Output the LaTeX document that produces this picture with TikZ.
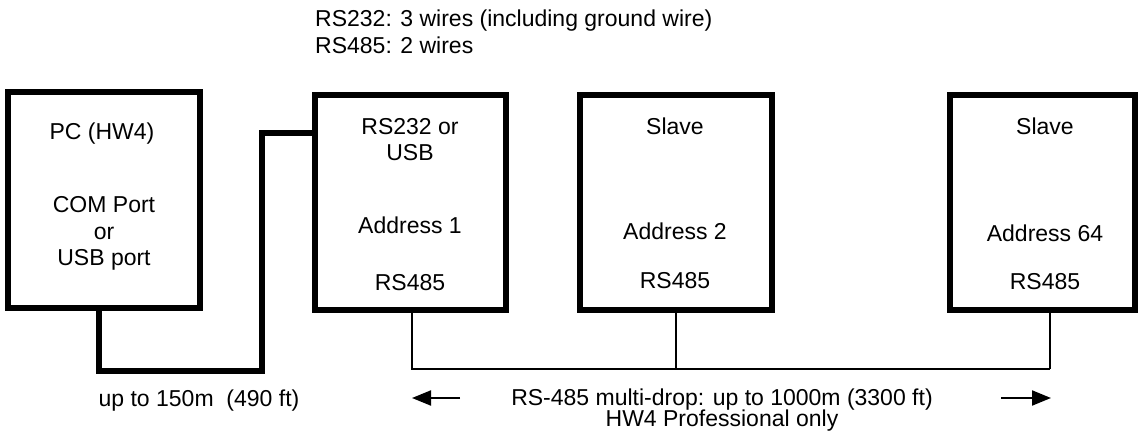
\documentclass[tikz,border=0pt]{standalone}
\usepackage{fontspec}
\setmainfont{Liberation Sans}
\usetikzlibrary{arrows.meta}

\def\yTop{27}
\def\yBus{369}
\def\yArr{398}

\begin{document}
\begin{tikzpicture}[x=1pt, y=-1pt,
    box/.style={shape=rectangle, draw=black, line width=6pt, inner sep=0pt},
    lbl/.style={anchor=base, inner sep=0pt, font=\fontsize{23}{27}\selectfont},
    wire/.style={draw=black, line width=6pt},
    bus/.style={draw=black, line width=1.5pt},
    span/.style={draw=black, line width=2pt, -{Triangle[length=19pt, width=15pt]}}]
    \useasboundingbox (0,0) rectangle (1138,438);

    %%   boxes
    \node[box, minimum width=192pt, minimum height=216pt] (PC)   at ( 104, 200)   {};
    \node[box, minimum width=191pt, minimum height=215pt] (RS)   at (410.5, 202.5) {};
    \node[box, minimum width=192pt, minimum height=215pt] (SL2)  at ( 676, 202.5) {};
    \node[box, minimum width=185pt, minimum height=215pt] (SL64) at (1042.5, 202.5) {};

    %%   texts in the boxes
    \node[lbl] (pcName) at (102, 140)   {PC (HW4)};
    \node[lbl] (pcCom)  at (104, 213)   {COM Port};
    \node[lbl] (pcOr)   at (104, 239.5) {or};
    \node[lbl] (pcUsb)  at (104, 266)   {USB port};

    \node[lbl] (rsName) at (410, 135) {RS232 or};
    \node[lbl] (rsUsb)  at (410, 161) {USB};
    \node[lbl] (rsAdr)  at (410, 234) {Address 1};
    \node[lbl] (rsBus)  at (410, 291) {RS485};

    \node[lbl] (slName) at (675, 135) {Slave};
    \node[lbl] (slAdr)  at (675, 240) {Address 2};
    \node[lbl] (slBus)  at (675, 289) {RS485};

    \node[lbl] (lsName) at (1045, 135) {Slave};
    \node[lbl] (lsAdr)  at (1045, 242) {Address 64};
    \node[lbl] (lsBus)  at (1045, 290) {RS485};

    %%   notes
    \node[lbl, anchor=base west] (note1) at (315, \yTop)    {RS232: 3 wires (including ground wire)};
    \node[lbl, anchor=base west] (note2) at (315, \yTop+27) {RS485: 2 wires};

    \node[lbl] (len1)  at (199, 406) {up to 150m \ (490 ft)};
    \node[lbl] (len2)  at (722, 405) {RS-485 multi-drop: up to 1000m (3300 ft)};
    \node[lbl] (len2b) at (722, 426) {HW4 Professional only};

    %%   serial cable
    \coordinate (W1) at (262, 371);
    \coordinate (W2) at (262, 133);
    \draw[wire] ([xshift=-5pt]PC.south) |- (W1) -- (W2) -- (W2 -| RS.west);

    %%   RS485 bus
    \coordinate (BusEnd) at (1050, \yBus);
    \draw[bus] ([xshift=1.5pt]RS.south) |- (BusEnd);
    \draw[bus] (SL2.south) -- (SL2.south |- BusEnd);
    \draw[bus] (BusEnd) -- (BusEnd |- SL64.south);

    %%   span arrows
    \coordinate (AL1) at (460, \yArr);
    \coordinate (AL2) at (412, \yArr);
    \coordinate (AR1) at (1001, \yArr);
    \coordinate (AR2) at (1051, \yArr);
    \draw[span] (AL1) -- (AL2);
    \draw[span] (AR1) -- (AR2);

\end{tikzpicture}
\end{document}
